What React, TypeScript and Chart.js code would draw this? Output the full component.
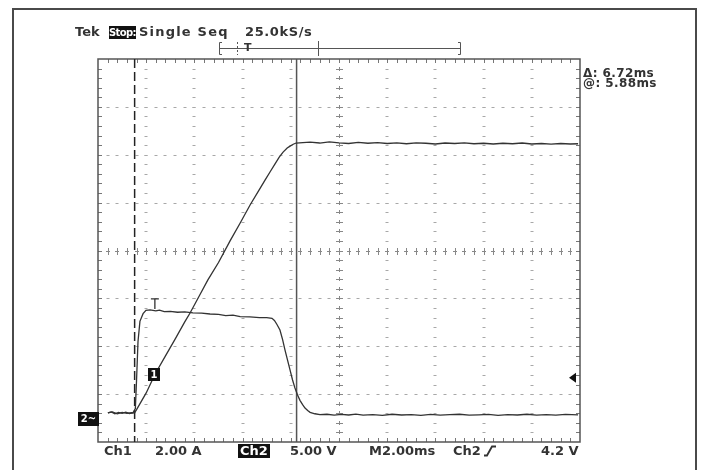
import React, { useEffect, useRef } from "react";
import { Chart, registerables } from "chart.js";

Chart.register(...registerables);

// ---- data (time in ms from left edge of the screen) ----
const TIME_CH1 = [
  0.41, 0.6, 0.8, 1.0, 1.2, 1.4, 1.52, 1.6, 2.0, 2.37, 2.8, 3.2, 3.6, 3.82, 4.2, 4.56, 5.0, 5.48, 5.9, 6.31,
  6.7, 6.93, 7.15, 7.34, 7.52, 7.68, 7.85, 7.97, 8.1, 8.22, 8.5, 8.8, 9.2, 9.6, 10.0, 10.4, 10.8, 11.2, 11.6,
  12.0, 12.4, 12.8, 13.2, 13.6, 14.0, 14.4, 14.8, 15.2, 15.6, 16.0, 16.4, 16.8, 17.2, 17.6, 18.0, 18.4, 18.8,
  19.2, 19.6, 19.92,
];
const CH1_AMPS = [
  0.02, 0.06, -0.02, 0.04, 0.0, 0.03, 0.02, 0.15, 0.85, 1.64, 2.4, 3.1, 3.82, 4.19, 4.9, 5.57, 6.3, 7.2, 7.95, 8.7,
  9.35, 9.74, 10.1, 10.41, 10.7, 10.91, 11.08, 11.16, 11.24, 11.29, 11.31, 11.33, 11.29, 11.34, 11.3, 11.27, 11.32,
  11.28, 11.31, 11.27, 11.3, 11.26, 11.3, 11.28, 11.25, 11.29, 11.27, 11.3, 11.26, 11.28, 11.25, 11.28, 11.26, 11.29,
  11.25, 11.27, 11.24, 11.27, 11.25, 11.26,
];
const TIME_CH2 = [
  0.41, 0.55, 0.7, 0.85, 1.0, 1.15, 1.3, 1.45, 1.55, 1.6, 1.66, 1.74, 1.87, 1.99, 2.16, 2.4, 2.55, 2.75, 3.0, 3.3,
  3.6, 3.94, 4.3, 4.65, 5.0, 5.3, 5.6, 5.9, 6.3, 6.7, 7.0, 7.22, 7.32, 7.42, 7.55, 7.66, 7.76, 7.87, 7.97, 8.07,
  8.17, 8.28, 8.38, 8.49, 8.59, 8.7, 8.8, 9.0, 9.21, 9.5, 9.8, 10.1, 10.4, 10.7, 11.0, 11.4, 11.8, 12.2, 12.6,
  13.0, 13.4, 13.8, 14.2, 14.6, 15.0, 15.4, 15.8, 16.2, 16.6, 17.0, 17.4, 17.8, 18.2, 18.6, 19.0, 19.4, 19.92,
];
const CH2_VOLTS = [
  0.05, 0.15, -0.05, 0.1, 0.0, 0.12, -0.02, 0.05, 0.5, 3.5, 7.5, 9.6, 10.4, 10.75, 10.8, 10.7, 10.78, 10.62, 10.65,
  10.55, 10.58, 10.48, 10.45, 10.37, 10.32, 10.2, 10.25, 10.1, 10.06, 10.0, 9.98, 9.92, 9.7, 9.3, 8.7, 7.7, 6.6, 5.5,
  4.5, 3.5, 2.65, 1.9, 1.35, 0.9, 0.55, 0.3, 0.1, -0.05, -0.15, -0.1, -0.2, -0.12, -0.18, -0.08, -0.2, -0.15, -0.22,
  -0.1, -0.18, -0.14, -0.22, -0.12, -0.2, -0.15, -0.1, -0.2, -0.16, -0.12, -0.21, -0.15, -0.18, -0.1, -0.19, -0.14,
  -0.2, -0.12, -0.16,
];

// ---- scope settings ----
const TIME_PER_DIV = 2.0; // ms
const CH1_PER_DIV = 2.0; // A
const CH2_PER_DIV = 5.0; // V
const GROUND_DIV = -3.4; // ground level of both channels, in divisions from centre
const TRIGGER_TIME = 2.36; // ms from left edge
const CURSOR_AT = 5.88; // ms after trigger
const CURSOR_DELTA = 6.72; // ms
const TRIGGER_MARK_V = 3.7;

const FONT = "'DejaVu Sans', 'Liberation Sans', sans-serif";
const INK = "#333";

const graticule = {
  id: "graticule",
  beforeDatasetsDraw(chart: any) {
    const { ctx, chartArea: a } = chart;
    const dw = (a.right - a.left) / 10;
    const dh = (a.bottom - a.top) / 8;
    ctx.save();
    // dotted division lines
    ctx.fillStyle = "#a8a8a8";
    for (let i = 1; i < 10; i++) {
      if (i === 5) continue;
      const x = Math.round(a.left + i * dw);
      for (let k = 1; k < 40; k++) {
        const y = Math.round(a.top + (k * dh) / 5);
        ctx.fillRect(x - 1.5, y, 3, 1);
      }
    }
    for (let j = 1; j < 8; j++) {
      if (j === 4) continue;
      const y = Math.round(a.top + j * dh);
      for (let k = 1; k < 50; k++) {
        const x = Math.round(a.left + (k * dw) / 5);
        ctx.fillRect(x - 1.5, y, 3, 1);
      }
    }
    // centre lines with minor ticks
    const cx = Math.round(a.left + 5 * dw);
    const cy = Math.round(a.top + 4 * dh);
    ctx.fillStyle = "#888";
    for (let k = 1; k < 50; k++) {
      const x = Math.round(a.left + (k * dw) / 5);
      ctx.fillRect(x - 2, cy, 4, 1);
      ctx.fillRect(x, cy - 3, 1, 7);
    }
    for (let k = 1; k < 40; k++) {
      const y = Math.round(a.top + (k * dh) / 5);
      ctx.fillRect(cx, y - 2, 1, 4);
      ctx.fillRect(cx - 3, y, 7, 1);
    }
    // border ticks
    ctx.fillStyle = "#777";
    for (let k = 1; k < 50; k++) {
      const x = Math.round(a.left + (k * dw) / 5);
      ctx.fillRect(x, a.top, 1, 4);
      ctx.fillRect(x, a.bottom - 4, 1, 4);
    }
    for (let k = 1; k < 40; k++) {
      const y = Math.round(a.top + (k * dh) / 5);
      ctx.fillRect(a.left, y, 4, 1);
      ctx.fillRect(a.right - 4, y, 4, 1);
    }
    ctx.strokeStyle = "#555";
    ctx.lineWidth = 1.5;
    ctx.strokeRect(a.left, a.top, a.right - a.left, a.bottom - a.top);

    // cursors
    const xs = chart.scales.x;
    const c2 = xs.getPixelForValue(TRIGGER_TIME + CURSOR_AT);
    const c1 = xs.getPixelForValue(TRIGGER_TIME + CURSOR_AT - CURSOR_DELTA);
    ctx.strokeStyle = "#555";
    ctx.lineWidth = 1.5;
    ctx.beginPath();
    ctx.moveTo(c2, a.top);
    ctx.lineTo(c2, a.bottom);
    ctx.stroke();
    ctx.strokeStyle = "#222";
    ctx.setLineDash([9, 4]);
    ctx.beginPath();
    ctx.moveTo(c1, a.top);
    ctx.lineTo(c1, a.bottom);
    ctx.stroke();
    ctx.setLineDash([]);
    ctx.restore();
  },
  afterDatasetsDraw(chart: any) {
    const { ctx, chartArea: a } = chart;
    const xs = chart.scales.x;
    const y2 = chart.scales.y2;
    ctx.save();
    // trigger "T" marker on the trace
    const tx = xs.getPixelForValue(TRIGGER_TIME);
    const tTop = y2.getPixelForValue(11.95);
    const tBot = y2.getPixelForValue(10.9);
    ctx.strokeStyle = INK;
    ctx.lineWidth = 1.3;
    ctx.beginPath();
    ctx.moveTo(tx - 4, tTop);
    ctx.lineTo(tx + 4, tTop);
    ctx.moveTo(tx, tTop);
    ctx.lineTo(tx, tBot);
    ctx.stroke();
    // trigger level arrow on the right
    const ay = y2.getPixelForValue(TRIGGER_MARK_V);
    ctx.fillStyle = "#111";
    ctx.beginPath();
    ctx.moveTo(a.right - 11, ay);
    ctx.lineTo(a.right - 4, ay - 5);
    ctx.lineTo(a.right - 4, ay + 5);
    ctx.closePath();
    ctx.fill();
    // record bar at top
    ctx.strokeStyle = "#555";
    ctx.lineWidth = 1;
    ctx.beginPath();
    ctx.moveTo(220, 48.5);
    ctx.lineTo(460, 48.5);
    ctx.moveTo(222, 42.5);
    ctx.lineTo(219.5, 42.5);
    ctx.lineTo(219.5, 54.5);
    ctx.lineTo(222, 54.5);
    ctx.moveTo(458, 42.5);
    ctx.lineTo(460.5, 42.5);
    ctx.lineTo(460.5, 54.5);
    ctx.lineTo(458, 54.5);
    ctx.moveTo(318.5, 41);
    ctx.lineTo(318.5, 56);
    ctx.stroke();
    ctx.setLineDash([2, 2]);
    ctx.beginPath();
    ctx.moveTo(237.5, 42);
    ctx.lineTo(237.5, 55);
    ctx.stroke();
    ctx.restore();
  },
};

type LabelProps = {
  x: number;
  capTop: number;
  size: number;
  text: string;
  ls?: number;
  color?: string;
};
const Label = ({ x, capTop, size, text, ls = 0, color = INK }: LabelProps) => (
  <div
    style={{
      position: "absolute",
      left: x,
      top: capTop - 0.117 * size,
      fontFamily: FONT,
      fontWeight: "bold",
      fontSize: size,
      lineHeight: size + "px",
      letterSpacing: ls,
      color,
      whiteSpace: "pre",
    }}
  >
    {text}
  </div>
);

type BoxProps = { x: number; y: number; w: number; h: number; text: string; size: number; ls?: number };
const InvBox = ({ x, y, w, h, text, size, ls = 0 }: BoxProps) => (
  <div
    style={{
      position: "absolute",
      left: x,
      top: y,
      width: w,
      height: h,
      background: "#111",
      color: "#fff",
      fontFamily: FONT,
      fontWeight: "bold",
      fontSize: size,
      lineHeight: h + "px",
      letterSpacing: ls,
      textAlign: "center",
      whiteSpace: "pre",
      overflow: "hidden",
    }}
  >
    {text}
  </div>
);

export default function App() {
  const ref = useRef<HTMLCanvasElement | null>(null);
  useEffect(() => {
    if (!ref.current) return;
    const y1min = (-4 - GROUND_DIV) * CH1_PER_DIV;
    const y1max = (4 - GROUND_DIV) * CH1_PER_DIV;
    const y2min = (-4 - GROUND_DIV) * CH2_PER_DIV;
    const y2max = (4 - GROUND_DIV) * CH2_PER_DIV;
    const chart = new Chart(ref.current, {
      type: "line",
      data: {
        datasets: [
          {
            label: "Ch1",
            data: TIME_CH1.map((t, i) => ({ x: t, y: CH1_AMPS[i] })),
            yAxisID: "y1",
            borderColor: INK,
            borderWidth: 1.3,
            pointRadius: 0,
            tension: 0,
          },
          {
            label: "Ch2",
            data: TIME_CH2.map((t, i) => ({ x: t, y: CH2_VOLTS[i] })),
            yAxisID: "y2",
            borderColor: INK,
            borderWidth: 1.3,
            pointRadius: 0,
            tension: 0,
          },
        ],
      },
      options: {
        animation: false,
        responsive: false,
        devicePixelRatio: 1,
        layout: { padding: { left: 98, top: 59, right: 123, bottom: 28 } },
        plugins: { legend: { display: false }, tooltip: { enabled: false } },
        scales: {
          x: { type: "linear", min: 0, max: 10 * TIME_PER_DIV, display: false },
          y1: { type: "linear", min: y1min, max: y1max, display: false },
          y2: { type: "linear", min: y2min, max: y2max, display: false },
        },
      },
      plugins: [graticule],
    });
    return () => chart.destroy();
  }, []);

  return (
    <div
      style={{
        position: "fixed",
        left: 0,
        top: 0,
        width: 703,
        height: 470,
        overflow: "hidden",
        background: "#fff",
      }}
    >
      <canvas ref={ref} width={703} height={470} style={{ position: "absolute", left: 0, top: 0 }} />
      <div
        style={{
          position: "absolute",
          left: 12,
          top: 8,
          width: 685,
          height: 480,
          border: "2px solid #4a4a4a",
          boxSizing: "border-box",
          pointerEvents: "none",
        }}
      />
      {/* header */}
      <Label x={75} capTop={27} size={13} text="Tek" />
      <InvBox x={109} y={26} w={27} h={13} text="Stop:" size={10} ls={-0.6} />
      <Label x={139} capTop={27} size={13} text="Single Seq" ls={1.2} />
      <Label x={245} capTop={27} size={13} text="25.0kS/s" ls={0.6} />
      <Label x={244} capTop={43} size={11} text="T" />
      {/* cursor readout */}
      <Label x={583} capTop={68} size={12} text={"\u0394: 6.72ms"} ls={0.4} />
      <Label x={583} capTop={78} size={12} text="@: 5.88ms" ls={0.4} />
      {/* channel markers */}
      <InvBox x={78} y={412} w={21} h={14} text="2~" size={10} />
      <InvBox x={148} y={368} w={12} h={13} text="1" size={10} />
      {/* footer */}
      <Label x={104} capTop={446} size={13} text="Ch1" />
      <Label x={155} capTop={446} size={13} text="2.00 A" />
      <InvBox x={238} y={444} w={32} h={14} text="Ch2" size={13} />
      <Label x={290} capTop={446} size={13} text="5.00 V" />
      <Label x={369} capTop={446} size={13} text="M2.00ms" />
      <Label x={453} capTop={446} size={13} text="Ch2" />
      <svg
        width={14}
        height={12}
        style={{ position: "absolute", left: 483, top: 445 }}
      >
        <path d="M1,10.5 L4,10.5 L9,1.5 L13,1.5" stroke={INK} strokeWidth={1.8} fill="none" />
      </svg>
      <Label x={541} capTop={446} size={13} text="4.2 V" />
    </div>
  );
}
